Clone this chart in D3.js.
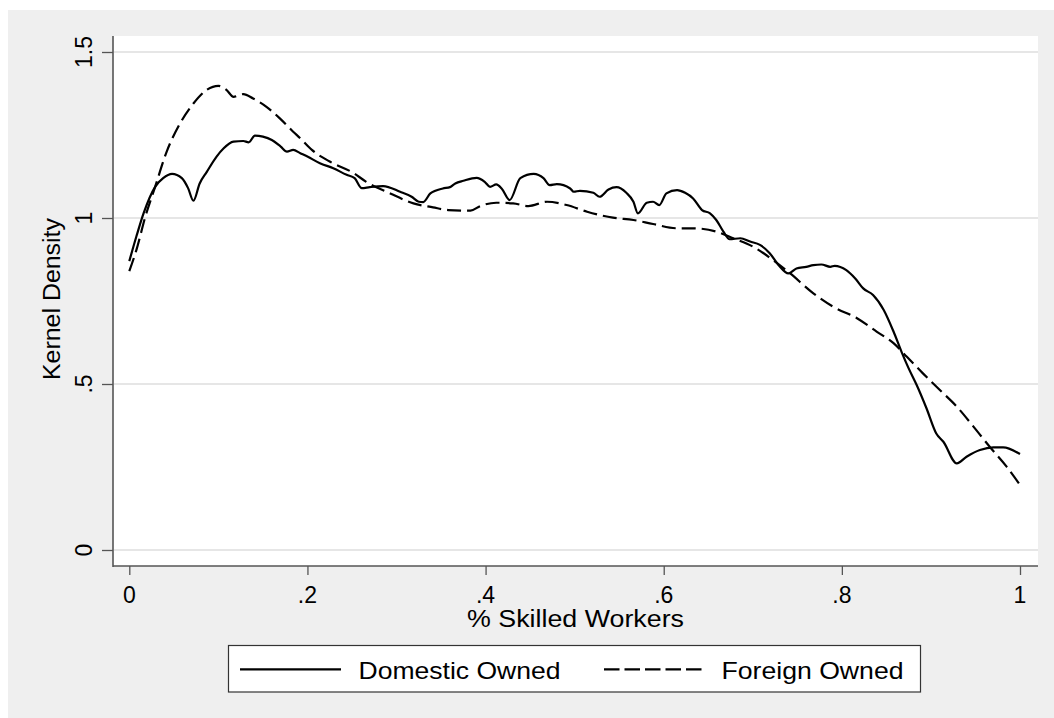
<!DOCTYPE html>
<html>
<head>
<meta charset="utf-8">
<script src="https://cdn.jsdelivr.net/npm/d3@7"></script>
<style>
  html, body { margin: 0; padding: 0; background: #ffffff; }
  svg { display: block; font-family: "Liberation Sans", Arial, sans-serif; }
</style>
</head>
<body>
<svg id="chart" width="1054" height="718"></svg>
<script>
// Kernel density of the share of skilled workers, by ownership
const xTicks = [0, 0.2, 0.4, 0.6, 0.8, 1];
const xTickLabels = ["0", ".2", ".4", ".6", ".8", "1"];
const yTicks = [0, 0.5, 1, 1.5];
const yTickLabels = ["0", ".5", "1", "1.5"];

const seriesNames = ["Domestic Owned", "Foreign Owned"];

const domesticX = [0.000, 0.008, 0.016, 0.029, 0.038, 0.048, 0.059, 0.066, 0.072, 0.079,
  0.087, 0.098, 0.106, 0.117, 0.128, 0.134, 0.141, 0.150, 0.160, 0.170,
  0.177, 0.184, 0.192, 0.200, 0.214, 0.229, 0.244, 0.253, 0.261, 0.270,
  0.285, 0.304, 0.317, 0.325, 0.330, 0.338, 0.352, 0.360, 0.366, 0.375,
  0.390, 0.399, 0.405, 0.412, 0.418, 0.427, 0.439, 0.454, 0.465, 0.472,
  0.480, 0.495, 0.499, 0.506, 0.521, 0.528, 0.538, 0.547, 0.558, 0.566,
  0.571, 0.581, 0.588, 0.595, 0.603, 0.615, 0.624, 0.633, 0.643, 0.652,
  0.659, 0.667, 0.674, 0.686, 0.697, 0.708, 0.719, 0.729, 0.740, 0.749,
  0.760, 0.768, 0.777, 0.787, 0.792, 0.805, 0.815, 0.824, 0.835, 0.847,
  0.858, 0.867, 0.875, 0.884, 0.895, 0.906, 0.914, 0.929, 0.940, 0.955,
  0.970, 0.981, 1.000];
const domesticY = [0.870, 0.945, 1.014, 1.094, 1.120, 1.133, 1.120, 1.090, 1.052, 1.104,
  1.139, 1.185, 1.210, 1.230, 1.232, 1.228, 1.248, 1.245, 1.235, 1.215,
  1.200, 1.205, 1.195, 1.185, 1.165, 1.150, 1.130, 1.120, 1.090, 1.093,
  1.096, 1.079, 1.064, 1.049, 1.048, 1.074, 1.089, 1.093, 1.104, 1.112,
  1.121, 1.109, 1.094, 1.101, 1.089, 1.054, 1.120, 1.133, 1.120, 1.099,
  1.102, 1.089, 1.079, 1.082, 1.076, 1.064, 1.086, 1.093, 1.076, 1.049,
  1.014, 1.046, 1.049, 1.039, 1.074, 1.084, 1.076, 1.059, 1.024, 1.014,
  0.994, 0.959, 0.936, 0.939, 0.929, 0.919, 0.894, 0.858, 0.833, 0.848,
  0.853, 0.858, 0.860, 0.853, 0.856, 0.843, 0.818, 0.788, 0.768, 0.723,
  0.658, 0.597, 0.547, 0.497, 0.427, 0.351, 0.326, 0.261, 0.281, 0.301,
  0.309, 0.309, 0.289];

const foreignX = [0.000, 0.008, 0.018, 0.029, 0.042, 0.057, 0.072, 0.087, 0.100, 0.109,
  0.117, 0.128, 0.139, 0.154, 0.169, 0.184, 0.192, 0.205, 0.225, 0.252,
  0.266, 0.293, 0.319, 0.341, 0.358, 0.383, 0.394, 0.412, 0.431, 0.448,
  0.469, 0.491, 0.514, 0.543, 0.566, 0.588, 0.615, 0.633, 0.659, 0.678,
  0.700, 0.723, 0.742, 0.768, 0.790, 0.817, 0.839, 0.858, 0.873, 0.891,
  0.910, 0.929, 0.948, 0.966, 0.985, 1.000];
const foreignY = [0.840, 0.904, 1.004, 1.094, 1.200, 1.285, 1.345, 1.386, 1.398, 1.386,
  1.365, 1.373, 1.360, 1.335, 1.300, 1.260, 1.240, 1.205, 1.170, 1.135,
  1.109, 1.074, 1.044, 1.032, 1.024, 1.022, 1.036, 1.046, 1.044, 1.036,
  1.049, 1.039, 1.019, 1.001, 0.994, 0.982, 0.969, 0.969, 0.959, 0.939,
  0.914, 0.873, 0.833, 0.773, 0.733, 0.698, 0.658, 0.623, 0.582, 0.532,
  0.482, 0.432, 0.371, 0.311, 0.251, 0.196];

const svg = d3.select("#chart");
const W = 1054, H = 718;

// outer panel
svg.append("rect").attr("x", 8).attr("y", 10).attr("width", W - 8).attr("height", H - 10)
  .attr("fill", "#efefef");

// plot region
const plot = { left: 113, right: 1038, top: 36, bottom: 566 };
svg.append("rect").attr("x", plot.left).attr("y", plot.top)
  .attr("width", plot.right - plot.left).attr("height", plot.bottom - plot.top)
  .attr("fill", "#ffffff");

const x = d3.scaleLinear().domain([0, 1]).range([129.3, 1020]);
const y = d3.scaleLinear().domain([0, 1.5]).range([550, 52]);

// horizontal grid
svg.append("g").selectAll("line").data(yTicks).join("line")
  .attr("x1", plot.left + 1).attr("x2", plot.right)
  .attr("y1", d => y(d)).attr("y2", d => y(d))
  .attr("stroke", "#e6e6e6").attr("stroke-width", 2);

// y axis
const yAxis = d3.axisLeft(y).tickValues(yTicks).tickSize(11).tickFormat("");
const gy = svg.append("g").attr("transform", `translate(${plot.left},0)`).call(yAxis);
gy.select(".domain").remove();
gy.selectAll(".tick line").attr("stroke", "#555").attr("stroke-width", 1.3);
svg.append("line").attr("x1", plot.left).attr("x2", plot.left)
  .attr("y1", plot.top).attr("y2", plot.bottom + 1)
  .attr("stroke", "#555").attr("stroke-width", 1.6);
svg.append("g").selectAll("text").data(yTicks).join("text")
  .attr("transform", (d, i) => `translate(91.5,${y(d)}) rotate(-90)`)
  .attr("text-anchor", "middle").attr("font-size", 23).attr("fill", "#000")
  .text((d, i) => yTickLabels[i]);

// x axis
const xAxis = d3.axisBottom(x).tickValues(xTicks).tickSize(9).tickFormat("");
const gx = svg.append("g").attr("transform", `translate(0,${plot.bottom})`).call(xAxis);
gx.select(".domain").remove();
gx.selectAll(".tick line").attr("stroke", "#555").attr("stroke-width", 1.3);
svg.append("line").attr("x1", plot.left).attr("x2", plot.right)
  .attr("y1", plot.bottom).attr("y2", plot.bottom)
  .attr("stroke", "#555").attr("stroke-width", 1.6);
svg.append("g").selectAll("text").data(xTicks).join("text")
  .attr("x", d => x(d)).attr("y", 602.5)
  .attr("text-anchor", "middle").attr("font-size", 23).attr("fill", "#000")
  .text((d, i) => xTickLabels[i]);

// axis titles
svg.append("text").attr("x", 575.5).attr("y", 626.5).attr("text-anchor", "middle")
  .attr("font-size", 23).attr("textLength", 217).attr("lengthAdjust", "spacingAndGlyphs")
  .text("% Skilled Workers");
svg.append("text").attr("transform", "translate(60,299) rotate(-90)")
  .attr("text-anchor", "middle").attr("font-size", 23)
  .attr("textLength", 162).attr("lengthAdjust", "spacingAndGlyphs")
  .text("Kernel Density");

// density curves
const line = d3.line().x(d => x(d[0])).y(d => y(d[1])).curve(d3.curveMonotoneX);
const domestic = domesticX.map((v, i) => [v, domesticY[i]]);
const foreign = foreignX.map((v, i) => [v, foreignY[i]]);

svg.append("path").datum(domestic).attr("d", line)
  .attr("fill", "none").attr("stroke", "#000").attr("stroke-width", 2.2)
  .attr("stroke-linejoin", "round");
svg.append("path").datum(foreign).attr("d", line)
  .attr("fill", "none").attr("stroke", "#000").attr("stroke-width", 2.2)
  .attr("stroke-dasharray", "14,6");

// legend
const lg = svg.append("g");
lg.append("rect").attr("x", 228.5).attr("y", 645.5).attr("width", 692).attr("height", 46.5)
  .attr("fill", "#fff").attr("stroke", "#333").attr("stroke-width", 1.2);
const legendItems = [
  { name: seriesNames[0], x1: 240, x2: 341, tx: 358.5, tw: 202, dash: null },
  { name: seriesNames[1], x1: 604, x2: 705, tx: 721.5, tw: 182, dash: "15.5,5" }
];
legendItems.forEach(it => {
  lg.append("line").attr("x1", it.x1).attr("x2", it.x2).attr("y1", 669.3).attr("y2", 669.3)
    .attr("stroke", "#000").attr("stroke-width", 2.2)
    .attr("stroke-dasharray", it.dash);
  lg.append("text").attr("x", it.tx).attr("y", 679).attr("font-size", 24)
    .attr("textLength", it.tw).attr("lengthAdjust", "spacingAndGlyphs")
    .text(it.name);
});
</script>
</body>
</html>
